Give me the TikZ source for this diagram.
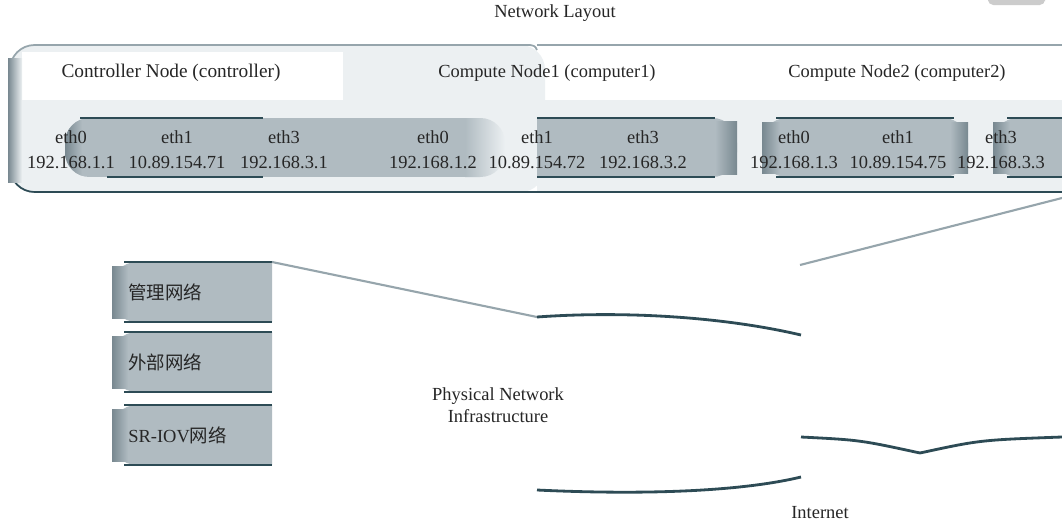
\documentclass[tikz,border=0pt]{standalone}
\usepackage{fontspec}
\setmainfont{Liberation Serif}
\newfontfamily\cjk{Noto Sans CJK SC}
\definecolor{dk}{RGB}{45,75,85}
\definecolor{mid}{RGB}{150,165,172}
\definecolor{pillc}{RGB}{176,187,193}
\definecolor{pilld}{RGB}{120,136,144}
\definecolor{lite}{RGB}{236,240,242}
\tikzset{
  lbl/.style={font=\fontsize{10.5}{12.5}\selectfont, text=black!85, inner sep=0pt},
  darkline/.style={draw=dk, line width=0.9pt},
  greyline/.style={draw=mid, line width=1pt},
  curve/.style={draw=dk, line width=1.6pt},
}
\begin{document}
\begin{tikzpicture}[x=0.02cm, y=-0.02cm]
\useasboundingbox (0,0) rectangle (1062,525);
\clip (0,0) rectangle (1062,525);
\fill[white] (0,0) rectangle (1062,525);
% faint smudge top right
\fill[black!20, rounded corners=3pt] (988,-4) rectangle (1045,5);
% outer frame, left part
\fill[lite, rounded corners=14pt] (10,45) rectangle (545,192);
\fill[white] (22,52) rectangle (343,100);
\draw[greyline, rounded corners=14pt] (530,45) -- (10,45) -- (10,192) -- (537,192);
\draw[greyline] (530,45) .. controls (535,46) .. (537,50);
\draw[darkline, rounded corners=14pt] (537,192) -- (10,192) -- (10,120);
\shade[left color=pilld, right color=lite] (8,58) rectangle (22,182);
% outer frame, right part
\fill[lite] (537,100) rectangle (1062,192);
\draw[greyline] (537,45) -- (1062,45);
\draw[darkline] (537,192) -- (1062,192);
% controller pill
\begin{scope}
\clip[rounded corners=14pt] (65,118) rectangle (505,177);
\fill[pillc] (65,118) rectangle (465,177);
\shade[left color=pillc, right color=lite] (465,118) rectangle (505,177);
\shade[left color=pilld, right color=pillc] (65,118) rectangle (82,177);
\end{scope}
\draw[darkline] (80,118) -- (263,118);
\draw[darkline] (107,177) -- (263,177);
% compute1 pill
\fill[pillc, rounded corners=14pt] (560,118) rectangle (737,177);
\fill[pillc] (537,118) rectangle (580,177);
\shade[left color=pillc, right color=pilld] (715,121) rectangle (737,174);
\draw[darkline] (537,118) -- (715,118);
\draw[darkline] (537,177) -- (715,177);
% compute2 pill
\fill[pillc, rounded corners=14pt] (762,118) rectangle (968,177);
\shade[left color=pilld, right color=pillc] (762,122) rectangle (780,173);
\shade[left color=pillc, right color=pilld] (950,122) rectangle (968,173);
\draw[darkline] (776,118) -- (954,118);
\draw[darkline] (776,177) -- (954,177);
% compute2 eth3 pill
\fill[pillc, rounded corners=14pt] (993,118) rectangle (1090,177);
\shade[left color=pilld, right color=pillc] (993,122) rectangle (1010,173);
\draw[darkline] (1007,118) -- (1062,118);
\draw[darkline] (1007,177) -- (1062,177);
% titles
\node[lbl] (title) at (555,13) {Network Layout};
\node[lbl, font=\fontsize{11}{13}\selectfont] (ctl) at (171,73) {Controller Node (controller)};
\node[lbl] (cn1) at (547,73) {Compute Node1 (computer1)};
\node[lbl] (cn2) at (897,73) {Compute Node2 (computer2)};
% interfaces
\foreach \n/\x/\e/\ip in {a/71/eth0/192.168.1.1, b/177/eth1/10.89.154.71, c/284/eth3/192.168.3.1,
  d/433/eth0/192.168.1.2, e/537/eth1/10.89.154.72, f/643/eth3/192.168.3.2,
  g/794/eth0/192.168.1.3, h/898/eth1/10.89.154.75, i/1001/eth3/192.168.3.3}{
  \node[lbl] (e\n) at (\x,137) {\e};
  \node[lbl] (ip\n) at (\x,162) {\ip};
}
% network boxes
\begin{scope}
\clip (0,240) rectangle (272,480);
\foreach \n/\y in {m/262, x/332, s/405}{
  \fill[pillc, rounded corners=14pt] (112,\y) rectangle (300,\y+60);
  \shade[left color=pilld, right color=pillc] (112,\y+4) rectangle (128,\y+56);
  \draw[darkline] (124,\y) -- (272,\y);
  \draw[darkline] (124,\y+60) -- (272,\y+60);
}
\end{scope}
\node[lbl, anchor=west] (mgmt) at (128,292) {\cjk 管理网络};
\node[lbl, anchor=west] (ext) at (128,362) {\cjk 外部网络};
\node[lbl, anchor=west] (sriov) at (128,435) {SR-IOV{\cjk 网络}};
% physical network / internet
\node[lbl, align=center] (phys) at (498,405) {Physical Network\\Infrastructure};
\node[lbl] (inet) at (820,513) {Internet};
\coordinate (m1) at (272,262);
\coordinate (p1) at (537,317);
\coordinate (p2) at (801,335);
\coordinate (q1) at (537,490);
\coordinate (q2) at (801,477);
\coordinate (r1) at (801,437);
\coordinate (r2) at (920,453);
\coordinate (r3) at (1062,437);
\coordinate (s1) at (800,265);
\coordinate (s2) at (1062,198);
\draw[greyline, line width=1.2pt] (m1) -- (p1);
\draw[curve] (p1) .. controls (620,311) and (720,316) .. (p2);
\draw[curve] (q1) .. controls (620,494) and (730,494) .. (q2);
\draw[curve] (r1) .. controls (860,440) .. (r2);
\draw[curve] (r2) .. controls (980,440) .. (r3);
\draw[greyline, line width=1.2pt] (s1) -- (s2);
\end{tikzpicture}
\end{document}
